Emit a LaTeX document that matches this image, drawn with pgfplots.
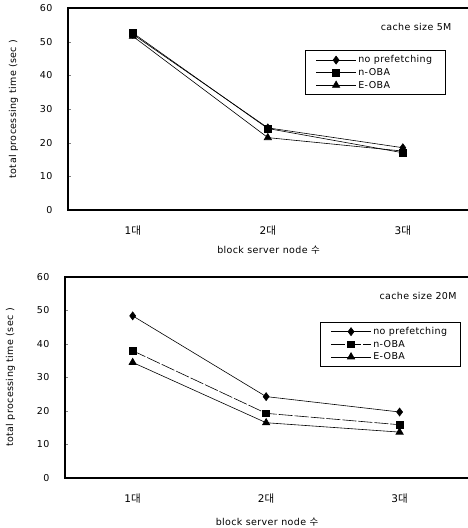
\documentclass[border=0pt]{standalone}
\usepackage{pgfplots}
\pgfplotsset{compat=1.18}
\usepackage{fontspec}
\setmainfont{DejaVu Sans}[LetterSpace=4]
\newfontfamily\kr{Noto Sans CJK KR}
\newcommand\ft{\fontsize{9.5}{11}\selectfont}
\newcommand\kt{\fontsize{10.5}{11}\selectfont}
\pgfplotsset{
  common/.style={
    scale only axis,
    ymin=0, ymax=60, ytick={0,10,...,60},
    xtick={0,1,2}, xticklabels={{\kt 1\kr 대},{\kt 2\kr 대},{\kt 3\kr 대}},
    xtick style={draw=none},
    ytick pos=left, major tick length=3pt,
    tick align=inside,
    axis line style={line width=1.1pt},
    tick label style={font=\ft},
    /pgf/number format/assume math mode=true,
    yticklabel style={xshift=-12pt},
    label style={font=\ft},
    ylabel={total processing time (sec )},
    xlabel={block server node {\kr 수}},
    ylabel style={yshift=15pt},
    legend style={draw=black, line width=0.6pt, fill=white, font=\ft,
      row sep=0pt, inner xsep=11pt, inner ysep=3pt, cells={anchor=west}},
    legend image code/.code={
      \draw[mark repeat=2,mark phase=2,#1] plot coordinates {(0cm,0cm) (0.7cm,0cm) (1.4cm,0cm)};},
    clip=false,
  },
  s1/.style={black, solid, line width=0.6pt, mark=diamond*, mark size=4pt, mark options={solid, fill=black}},
  s2/.style={black, solid, line width=0.6pt, mark=square*, mark size=3.4pt, mark options={solid, fill=black}},
  s3/.style={black, solid, line width=0.6pt, mark=triangle*, mark size=4.2pt, mark options={solid, fill=black}},
}
\begin{document}
\begin{tikzpicture}
\useasboundingbox (0,0) rectangle (467pt,528pt);
\begin{axis}[common, at={(68pt,318pt)}, anchor=south west,
  width=401pt, height=202pt, xmin=-0.48, xmax=2.49,
  xticklabel style={yshift=-12pt},
  xlabel style={yshift=-4pt},
  legend style={at={(rel axis cs:0.59,0.79)}, anchor=north west}]
\addplot[s1] coordinates {(0,52.2) (1,24.4) (2,18.5)};
\addplot[s2] coordinates {(0,52.6) (1,24.2) (2,17.0)};
\addplot[s3] coordinates {(0,51.6) (1,21.5) (2,17.5)};
\legend{no prefetching, n-OBA, E-OBA}
\node[anchor=east, font=\ft] at (rel axis cs:0.965,0.906) {cache size 5M};
\end{axis}
\begin{axis}[common, at={(65pt,50pt)}, anchor=south west,
  width=404pt, height=201pt, xmin=-0.507, xmax=2.52,
  xticklabel style={yshift=-12pt},
  xlabel style={yshift=-8pt},
  legend style={at={(rel axis cs:0.63,0.776)}, anchor=north west}]
\addplot[s1] coordinates {(0,48.4) (1,24.3) (2,19.7)};
\addplot[s2, dash pattern=on 14pt off 2pt] coordinates {(0,38.0) (1,19.3) (2,15.9)};
\addplot[s3] coordinates {(0,34.5) (1,16.5) (2,13.7)};
\legend{no prefetching, n-OBA, E-OBA}
\node[anchor=east, font=\ft] at (rel axis cs:0.978,0.905) {cache size 20M};
\end{axis}
\end{tikzpicture}
\end{document}
